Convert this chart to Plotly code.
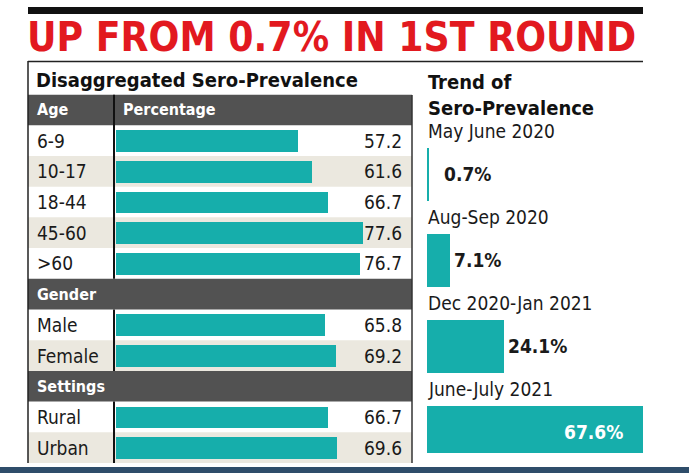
import plotly.graph_objects as go

# 左の表のデータ
age_groups = ["6-9", "10-17", "18-44", "45-60", ">60"]
age_values = [57.2, 61.6, 66.7, 77.6, 76.7]
gender_groups = ["Male", "Female"]
gender_values = [65.8, 69.2]
setting_groups = ["Rural", "Urban"]
setting_values = [66.7, 69.6]

# 右側のトレンド
trend_periods = ["May June 2020", "Aug-Sep 2020", "Dec 2020-Jan 2021", "June-July 2021"]
trend_values = [0.7, 7.1, 24.1, 67.6]

W, H = 689, 473
FONT = "DejaVu Sans Condensed, Liberation Sans Narrow, sans-serif"
TEAL = "#16aeab"
DARK = "#525252"
BEIGE = "#ebe8df"


def px(x):
    return x / W


def py(y):
    return 1 - y / H


sections = [
    ("Age", age_groups, age_values),
    ("Gender", gender_groups, gender_values),
    ("Settings", setting_groups, setting_values),
]

fig = go.Figure()
shapes = []
annotations = []

bar_rows, bar_vals = [], []
row = 0
for name, groups, values in sections:
    # セクション見出し行
    shapes.append(dict(type="rect", xref="paper", yref="y", x0=px(28), x1=px(412),
                       y0=row - 0.5, y1=row + 0.5, fillcolor=DARK, line_width=0, layer="below"))
    annotations.append(dict(text=f"<b>{name}</b>", xref="paper", yref="y", x=px(35), y=row,
                            xanchor="left", showarrow=False,
                            font=dict(family=FONT, size=16, color="white")))
    # 縦の区切り線（見出し行は最初だけ）
    top = row - 0.5 if row == 0 else row + 0.5
    shapes.append(dict(type="line", xref="paper", yref="y", x0=px(114), x1=px(114),
                       y0=top, y1=row + len(groups) + 0.5,
                       line=dict(color="#111111", width=2)))
    if row == 0:
        annotations.append(dict(text="<b>Percentage</b>", xref="paper", yref="y", x=px(121), y=row,
                                xanchor="left", showarrow=False,
                                font=dict(family=FONT, size=16, color="white")))
    row += 1
    for i, (g, v) in enumerate(zip(groups, values)):
        if i % 2 == 1:
            shapes.append(dict(type="rect", xref="paper", yref="y", x0=px(28), x1=px(412),
                               y0=row - 0.5, y1=row + 0.5, fillcolor=BEIGE, line_width=0, layer="below"))
        annotations.append(dict(text=g, xref="paper", yref="y", x=px(35), y=row,
                                xanchor="left", showarrow=False,
                                font=dict(family=FONT, size=19, color="#1a1a1a")))
        annotations.append(dict(text=f"{v}", xref="paper", yref="y", x=px(404), y=row,
                                xanchor="right", showarrow=False,
                                font=dict(family=FONT, size=19, color="#1a1a1a")))
        bar_rows.append(row)
        bar_vals.append(v)
        row += 1

fig.add_trace(go.Bar(x=bar_vals, y=bar_rows, orientation="h", width=0.71,
                     marker=dict(color=TEAL, line_width=0), showlegend=False,
                     hoverinfo="skip", xaxis="x", yaxis="y"))

# 右側のトレンド棒
trend_bar_pos = [2 * i + 1 for i in range(len(trend_values))]
fig.add_trace(go.Bar(x=trend_values, y=trend_bar_pos, orientation="h", width=1.23,
                     marker=dict(color=TEAL, line_width=0), showlegend=False,
                     hoverinfo="skip", xaxis="x2", yaxis="y2"))
for i, (p, v) in enumerate(zip(trend_periods, trend_values)):
    annotations.append(dict(text=p, xref="paper", yref="y2", x=px(426), y=2 * i,
                            xanchor="left", showarrow=False,
                            font=dict(family=FONT, size=19, color="#1a1a1a")))
    if i == len(trend_values) - 1:
        annotations.append(dict(text=f"<b>{v}%</b>", xref="x2", yref="y2", x=v, y=2 * i + 1,
                                xanchor="right", xshift=-18, showarrow=False,
                                font=dict(family=FONT, size=19, color="white")))
    else:
        annotations.append(dict(text=f"<b>{v}%</b>", xref="x2", yref="y2", x=v, y=2 * i + 1,
                                xanchor="left", xshift=13 if v < 2 else 2, showarrow=False,
                                font=dict(family=FONT, size=19, color="#1a1a1a")))

# 見出し
annotations.append(dict(text="<b>UP FROM 0.7% IN 1ST ROUND</b>", xref="paper", yref="paper",
                        x=px(25), y=py(37), xanchor="left", yanchor="middle", showarrow=False,
                        font=dict(family=FONT, size=40.4, color="#e2191f")))
annotations.append(dict(text="<b>Disaggregated Sero-Prevalence</b>", xref="paper", yref="paper",
                        x=px(34), y=py(80), xanchor="left", yanchor="middle", showarrow=False,
                        font=dict(family=FONT, size=20, color="#111111")))
annotations.append(dict(text="<b>Trend of<br>Sero-Prevalence</b>", xref="paper", yref="paper",
                        x=px(426), y=py(95), xanchor="left", yanchor="middle", align="left",
                        showarrow=False, font=dict(family=FONT, size=20, color="#111111")))

# 枠線・帯
shapes += [
    dict(type="rect", xref="paper", yref="paper", x0=px(28), x1=px(643), y0=py(7), y1=py(14),
         fillcolor="#111111", line_width=0),
    dict(type="line", xref="paper", yref="paper", x0=px(28), x1=px(643), y0=py(61.5), y1=py(61.5),
         line=dict(color="#222222", width=1.5)),
    dict(type="line", xref="paper", yref="paper", x0=px(28), x1=px(28), y0=py(61), y1=py(463),
         line=dict(color="#222222", width=1.5)),
    dict(type="line", xref="paper", yref="paper", x0=px(412), x1=px(412), y0=py(95), y1=py(463),
         line=dict(color="#333333", width=1.5)),
    dict(type="rect", xref="paper", yref="paper", x0=0, x1=1, y0=py(473), y1=py(467),
         fillcolor="#2e4d6a", line_width=0),
]

fig.update_layout(
    width=W, height=H, margin=dict(l=0, r=0, t=0, b=0),
    paper_bgcolor="white", plot_bgcolor="rgba(0,0,0,0)",
    bargap=0, shapes=shapes, annotations=annotations,
    xaxis=dict(domain=[px(116), px(412)], range=[0, (412 - 116) / 3.18], visible=False, fixedrange=True),
    yaxis=dict(domain=[py(463), py(94.5)], range=[11.5, -0.5], visible=False, fixedrange=True),
    xaxis2=dict(domain=[px(427), 1], range=[0, (W - 427) / 3.2], visible=False, fixedrange=True,
                anchor="y2"),
    yaxis2=dict(domain=[py(453), py(109.5)], range=[7.5, -0.5], visible=False, fixedrange=True,
                anchor="x2"),
)

# ページの余白を消す
fig.write_html("out.html", config={"displayModeBar": False},
               post_script="document.body.style.margin='0';document.body.style.overflow='hidden';")
